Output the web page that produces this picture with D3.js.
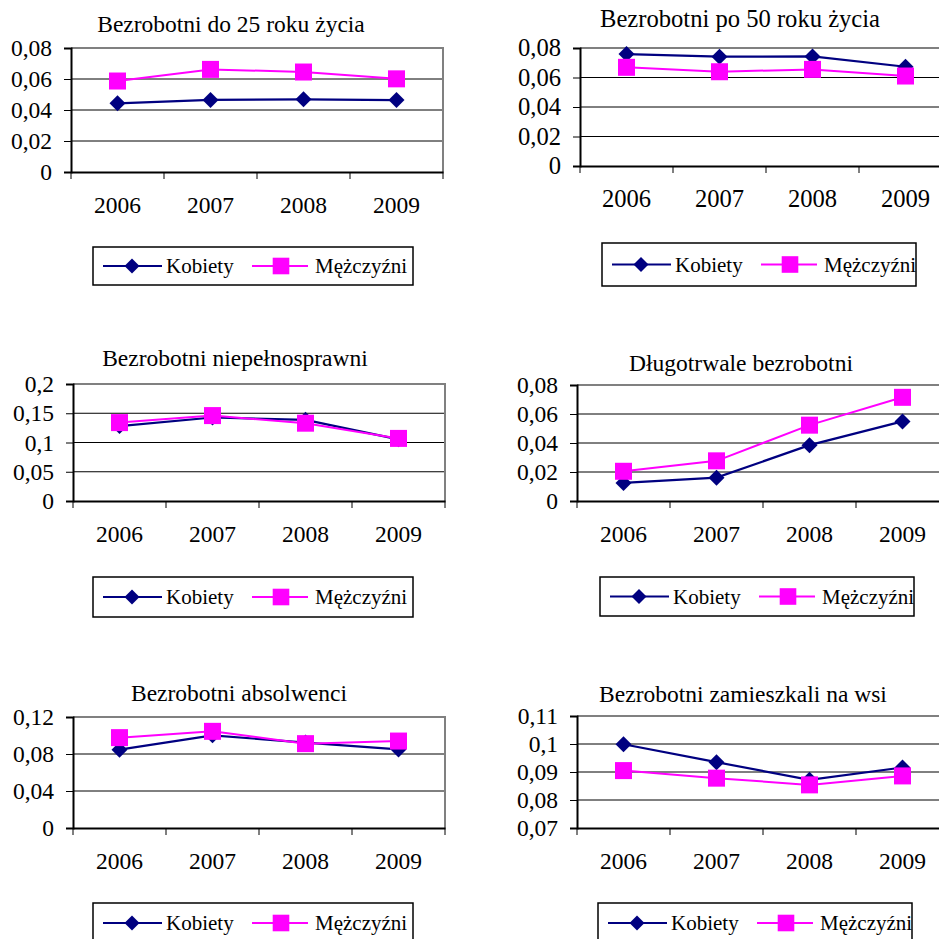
<!DOCTYPE html>
<html>
<head>
<meta charset="utf-8">
<script src="https://cdn.jsdelivr.net/npm/d3@7"></script>
<style>
  body { margin: 0; background: #fff; }
  svg { display: block; }
  svg text { font-family: "Liberation Serif", "Times New Roman", serif; }
</style>
</head>
<body>
<div id="chart"></div>
<script>
var years = ["2006", "2007", "2008", "2009"];
var seriesNames = ["Kobiety", "Mężczyźni"];

var titles = [
    "Bezrobotni do 25 roku życia",
    "Bezrobotni po 50 roku życia",
    "Bezrobotni niepełnosprawni",
    "Długotrwale bezrobotni",
    "Bezrobotni absolwenci",
    "Bezrobotni zamieszkali na wsi"
];

// Kobiety
var kobiety25 = [0.0443, 0.0465, 0.0469, 0.0464];
var kobiety50 = [0.0759, 0.0741, 0.0743, 0.0673];
var kobietyNiep = [0.128, 0.1427, 0.1387, 0.1054];
var kobietyDlugo = [0.0125, 0.0161, 0.0385, 0.0549];
var kobietyAbs = [0.0847, 0.1002, 0.0923, 0.085];
var kobietyWies = [0.0999, 0.0935, 0.0872, 0.0916];

// Mężczyźni
var mezczyzni25 = [0.0587, 0.0662, 0.0645, 0.0601];
var mezczyzni50 = [0.0669, 0.0639, 0.0655, 0.061];
var mezczyzniNiep = [0.134, 0.146, 0.133, 0.107];
var mezczyzniDlugo = [0.0205, 0.0277, 0.0523, 0.0715];
var mezczyzniAbs = [0.0977, 0.1045, 0.0912, 0.094];
var mezczyzniWies = [0.0905, 0.0878, 0.0854, 0.0886];

// y tick values
var ticks25 = [0, 0.02, 0.04, 0.06, 0.08];
var ticks50 = [0, 0.02, 0.04, 0.06, 0.08];
var ticksNiep = [0, 0.05, 0.1, 0.15, 0.2];
var ticksDlugo = [0, 0.02, 0.04, 0.06, 0.08];
var ticksAbs = [0, 0.04, 0.08, 0.12];
var ticksWies = [0.07, 0.08, 0.09, 0.1, 0.11];

var colorK = "#000080";
var colorM = "#ff00ff";
var serif = "'Liberation Serif', 'Times New Roman', serif";

var plComma = d3.formatLocale({decimal: ",", thousands: " ", grouping: [3], currency: ["", ""]});
var fmt = plComma.format("~g");

// layout of each small chart (pixels)
var layouts = [
    {left: 71, top: 48, bottom: 172, titleX: 231, titleY: 24, font: 23.5, legX: 93, legY: 247, legH: 38},
    {left: 580, top: 48, bottom: 166, titleX: 740, titleY: 18, font: 24.6, legX: 602, legY: 243, legH: 43},
    {left: 73, top: 384, bottom: 501, titleX: 235, titleY: 358, font: 23.5, legX: 93, legY: 577, legH: 40},
    {left: 577, top: 385, bottom: 501, titleX: 741, titleY: 363, font: 23.5, legX: 600, legY: 577, legH: 39},
    {left: 73, top: 717, bottom: 828, titleX: 239, titleY: 693, font: 23.5, legX: 93, legY: 903, legH: 40},
    {left: 577, top: 716, bottom: 828, titleX: 743, titleY: 694, font: 23.5, legX: 598, legY: 903, legH: 40}
];
var plotWidth = 372;
var legendWidth = 320;

var svg = d3.select("#chart").append("svg")
    .attr("width", 939)
    .attr("height", 939);

function diamond(g, x, y, r) {
    g.append("path")
        .attr("d", "M" + x + "," + (y - r) + "L" + (x + r) + "," + y + "L" + x + "," + (y + r) + "L" + (x - r) + "," + y + "Z")
        .attr("fill", colorK);
}

function square(g, x, y, r) {
    g.append("rect")
        .attr("x", x - r).attr("y", y - r)
        .attr("width", 2 * r).attr("height", 2 * r)
        .attr("fill", colorM);
}

function drawPanel(i, kData, mData, tickVals) {
    var L = layouts[i];
    var g = svg.append("g");
    var x = d3.scaleBand().domain(years).range([L.left, L.left + plotWidth]);
    var y = d3.scaleLinear().domain(d3.extent(tickVals)).range([L.bottom, L.top]);

    // title
    g.append("text")
        .attr("x", L.titleX).attr("y", L.titleY)
        .attr("dy", "0.35em")
        .attr("text-anchor", "middle")
        .style("font-family", serif)
        .style("font-size", L.font + "px")
        .text(titles[i]);

    // gridlines
    g.selectAll(".grid")
        .data(tickVals.slice(1, -1))
        .enter().append("line")
        .attr("x1", L.left).attr("x2", L.left + plotWidth)
        .attr("y1", function(d) { return y(d); })
        .attr("y2", function(d) { return y(d); })
        .attr("stroke", "#000")
        .attr("stroke-width", 1);

    // plot border (top and right)
    g.append("path")
        .attr("d", "M" + L.left + "," + L.top + "H" + (L.left + plotWidth) + "V" + L.bottom)
        .attr("fill", "none")
        .attr("stroke", "#808080")
        .attr("stroke-width", 2);

    // y axis
    var yAxis = g.append("g")
        .attr("transform", "translate(" + L.left + ",0)")
        .call(d3.axisLeft(y).tickValues(tickVals).tickSize(7).tickPadding(12).tickFormat(fmt));
    yAxis.select(".domain").attr("stroke", "#000").attr("stroke-width", 2);
    yAxis.selectAll("text")
        .style("font-size", L.font + "px")
        .style("font-family", serif)
        .attr("fill", "#000");

    // x axis with ticks between categories
    var xAxis = g.append("g")
        .attr("transform", "translate(0," + L.bottom + ")")
        .call(d3.axisBottom(x).tickSize(0).tickPadding(24));
    xAxis.select(".domain").attr("stroke", "#000").attr("stroke-width", 2);
    xAxis.selectAll("text")
        .style("font-size", L.font + "px")
        .style("font-family", serif)
        .attr("fill", "#000");
    var edges = years.map(function(d) { return x(d); }).concat([x.range()[1]]);
    xAxis.selectAll(".edge")
        .data(edges)
        .enter().append("line")
        .attr("x1", function(d) { return d; })
        .attr("x2", function(d) { return d; })
        .attr("y1", 0).attr("y2", 7)
        .attr("stroke", "#000")
        .attr("stroke-width", 1);

    var line = d3.line()
        .x(function(d, j) { return x(years[j]) + x.bandwidth() / 2; })
        .y(function(d) { return y(d); });

    g.append("path").datum(kData)
        .attr("d", line)
        .attr("fill", "none")
        .attr("stroke", colorK)
        .attr("stroke-width", 2.2);
    kData.forEach(function(d, j) {
        diamond(g, x(years[j]) + x.bandwidth() / 2, y(d), 8);
    });

    g.append("path").datum(mData)
        .attr("d", line)
        .attr("fill", "none")
        .attr("stroke", colorM)
        .attr("stroke-width", 2);
    mData.forEach(function(d, j) {
        square(g, x(years[j]) + x.bandwidth() / 2, y(d), 8.5);
    });

    // legend
    var lg = g.append("g").attr("transform", "translate(" + L.legX + "," + L.legY + ")");
    var mid = L.legH / 2;
    lg.append("rect")
        .attr("x", 0).attr("y", 0)
        .attr("width", legendWidth - (i % 2 ? 6 : 0)).attr("height", L.legH)
        .attr("fill", "#fff")
        .attr("stroke", "#000")
        .attr("stroke-width", 1.5);
    lg.append("line")
        .attr("x1", 10).attr("x2", 69).attr("y1", mid).attr("y2", mid)
        .attr("stroke", colorK).attr("stroke-width", 2.2);
    diamond(lg, 39, mid, 7.5);
    lg.append("text")
        .attr("x", 73).attr("y", mid).attr("dy", "0.35em")
        .style("font-family", serif)
        .style("font-size", "21px")
        .text(seriesNames[0]);
    lg.append("line")
        .attr("x1", 159).attr("x2", 215).attr("y1", mid).attr("y2", mid)
        .attr("stroke", colorM).attr("stroke-width", 2);
    square(lg, 188, mid, 8.3);
    lg.append("text")
        .attr("x", 222).attr("y", mid).attr("dy", "0.35em")
        .style("font-family", serif)
        .style("font-size", "21px")
        .text(seriesNames[1]);
}

drawPanel(0, kobiety25, mezczyzni25, ticks25);
drawPanel(1, kobiety50, mezczyzni50, ticks50);
drawPanel(2, kobietyNiep, mezczyzniNiep, ticksNiep);
drawPanel(3, kobietyDlugo, mezczyzniDlugo, ticksDlugo);
drawPanel(4, kobietyAbs, mezczyzniAbs, ticksAbs);
drawPanel(5, kobietyWies, mezczyzniWies, ticksWies);
</script>
</body>
</html>
